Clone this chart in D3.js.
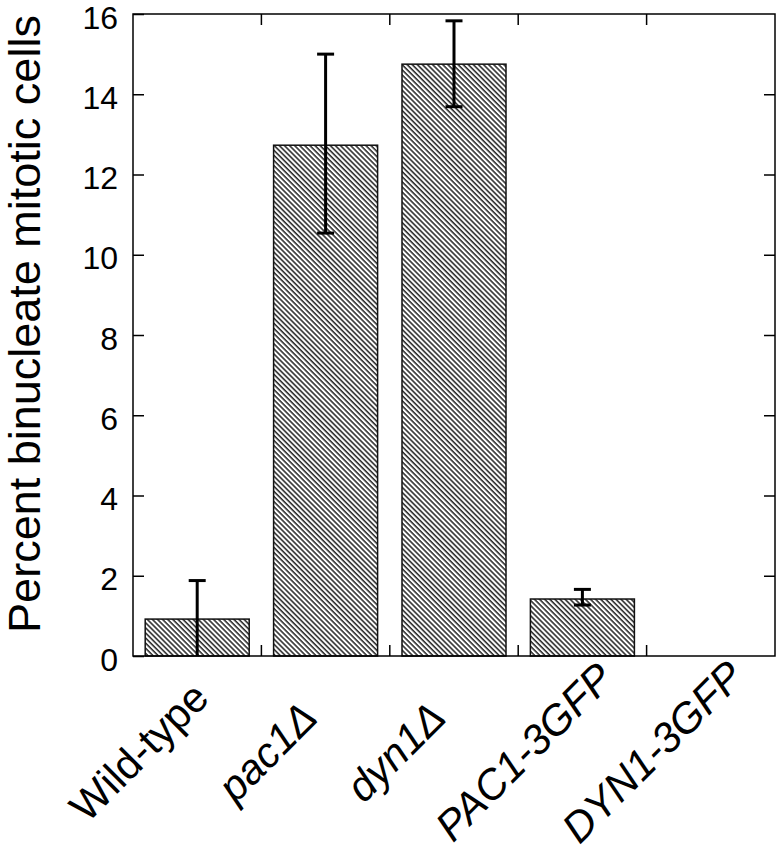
<!DOCTYPE html>
<html lang="en">

<head>
  <meta charset="utf-8">
  <script src="https://d3js.org/d3.v7.min.js"></script>
  <style>
    body {
      margin: 0;
      background: #fff;
    }

    text {
      font-family: "Liberation Sans", Arial, sans-serif;
      fill: #000;
    }
  </style>
</head>

<body>
  <svg width="782" height="853"></svg>
  <script>
    // values
    const categories = ["Wild-type", "pac1Δ", "dyn1Δ", "PAC1-3GFP", "DYN1-3GFP"];
    const italicLabel = [false, true, true, true, true];
    const percent = [0.92, 12.73, 14.75, 1.42, 0];
    const errLow = [0, 10.54, 13.69, 1.27, 0];
    const errHigh = [1.88, 15.0, 15.83, 1.66, 0];
    const yTicks = [0, 2, 4, 6, 8, 10, 12, 14, 16];

    const svg = d3.select("svg");
    const plotL = 133, plotR = 775, plotT = 14, plotB = 656;

    const x = d3.scaleBand()
      .domain(categories)
      .range([plotL, plotR])
      .paddingInner(0.19)
      .paddingOuter(0.095);

    const y = d3.scaleLinear().domain([0, 16]).range([plotB, plotT]);

    // hatch fill
    const defs = svg.append("defs");
    defs.append("pattern")
      .attr("id", "hatch")
      .attr("patternUnits", "userSpaceOnUse")
      .attr("width", 3.6)
      .attr("height", 10)
      .attr("patternTransform", "rotate(-45)")
      .call(p => {
        p.append("rect").attr("width", 3.6).attr("height", 10).attr("fill", "#fff");
        p.append("line")
          .attr("x1", 1).attr("x2", 1)
          .attr("y1", 0).attr("y2", 10)
          .attr("stroke", "#111")
          .attr("stroke-width", 1.4);
      });

    const rows = categories.map((c, i) => ({
      name: c, value: percent[i], lo: errLow[i], hi: errHigh[i], italic: italicLabel[i]
    }));

    // bars
    svg.append("g")
      .selectAll("rect")
      .data(rows.filter(d => d.value > 0))
      .join("rect")
      .attr("x", d => x(d.name))
      .attr("y", d => y(d.value))
      .attr("width", x.bandwidth())
      .attr("height", d => y(0) - y(d.value))
      .attr("fill", "url(#hatch)")
      .attr("stroke", "#111")
      .attr("stroke-width", 1.5);

    // error bars
    const cap = 8.5;
    const eb = svg.append("g").attr("stroke", "#000").attr("stroke-width", 3);
    rows.filter(d => d.hi > 0).forEach(d => {
      const cx = x(d.name) + x.bandwidth() / 2;
      eb.append("line")
        .attr("x1", cx).attr("x2", cx)
        .attr("y1", y(d.lo)).attr("y2", y(d.hi));
      eb.append("line")
        .attr("x1", cx - cap).attr("x2", cx + cap)
        .attr("y1", y(d.hi)).attr("y2", y(d.hi));
      if (d.lo > 0) {
        eb.append("line")
          .attr("x1", cx - cap).attr("x2", cx + cap)
          .attr("y1", y(d.lo)).attr("y2", y(d.lo));
      }
    });

    // left axis (ticks pointing inwards)
    const yAxis = svg.append("g")
      .attr("transform", `translate(${plotL},0)`)
      .call(d3.axisLeft(y).tickValues(yTicks).tickSize(-11).tickPadding(15));
    yAxis.select(".domain").remove();
    yAxis.selectAll("line").attr("stroke", "#000").attr("stroke-width", 1.5);
    yAxis.selectAll("text")
      .attr("font-size", 32)
      .attr("dy", "0.44em")
      .style("font-family", "'Liberation Sans', Arial, sans-serif");

    // right axis
    const yAxisR = svg.append("g")
      .attr("transform", `translate(${plotR},0)`)
      .call(d3.axisRight(y).tickValues(yTicks.slice(1, -1)).tickSize(-11).tickFormat(""));
    yAxisR.select(".domain").remove();
    yAxisR.selectAll("line").attr("stroke", "#000").attr("stroke-width", 1.5);

    // category boundary ticks on top and bottom
    const step = x.step();
    const bounds = categories.slice(0, -1).map(c => x(c) + x.bandwidth() + step * x.paddingInner() / 2);
    const bt = svg.append("g").attr("stroke", "#000").attr("stroke-width", 1.5);
    bounds.forEach(b => {
      bt.append("line").attr("x1", b).attr("x2", b).attr("y1", plotB).attr("y2", plotB - 11);
      bt.append("line").attr("x1", b).attr("x2", b).attr("y1", plotT).attr("y2", plotT + 11);
    });

    // frame
    svg.append("rect")
      .attr("x", plotL).attr("y", plotT)
      .attr("width", plotR - plotL).attr("height", plotB - plotT)
      .attr("fill", "none")
      .attr("stroke", "#000")
      .attr("stroke-width", 1.5);

    // category labels, centred and tilted
    svg.append("g")
      .selectAll("text")
      .data(rows)
      .join("text")
      .attr("text-anchor", "middle")
      .attr("font-size", 42)
      .attr("font-style", d => d.italic ? "italic" : "normal")
      .attr("transform", d => `translate(${x(d.name) + x.bandwidth() / 2 - 48},${762}) rotate(-45)`)
      .text(d => d.name);

    // y title
    svg.append("text")
      .attr("transform", `translate(40,${(plotT + plotB) / 2 - 11}) rotate(-90)`)
      .attr("text-anchor", "middle")
      .attr("font-size", 45)
      .text("Percent binucleate mitotic cells");
  </script>
</body>

</html>
